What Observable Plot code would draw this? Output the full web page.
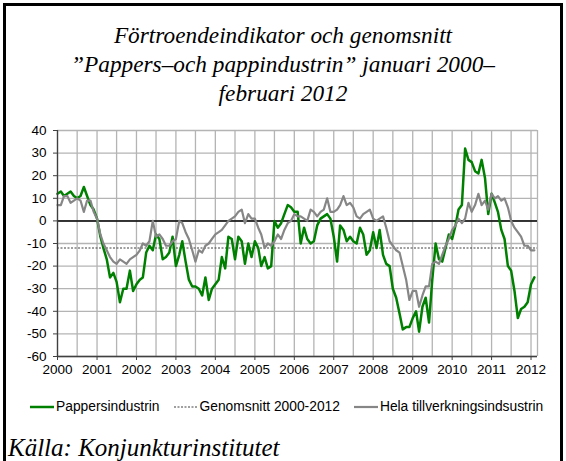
<!DOCTYPE html>
<html><head><meta charset="utf-8">
<script src="https://cdn.jsdelivr.net/npm/d3@7"></script>
<script src="https://cdn.jsdelivr.net/npm/@observablehq/plot@0.6"></script>
<style>
html,body{margin:0;padding:0;background:#fff;width:566px;height:461px;overflow:hidden;}
#frame{position:absolute;left:3px;top:3px;width:560px;height:470px;border:3px solid #000;border-bottom:none;box-sizing:border-box;z-index:10;pointer-events:none;}
#title{position:absolute;left:0;top:21px;width:566px;text-align:center;font-family:"Liberation Serif","Times New Roman",serif;font-style:italic;font-size:23.3px;line-height:29px;color:#000;}
#chart{position:absolute;left:0;top:120px;}
#legend{position:absolute;left:30px;top:399px;font-family:"Liberation Sans",Arial,sans-serif;font-size:13.8px;color:#000;white-space:nowrap;}
#legend span{display:inline-flex;align-items:center;margin-right:14px;}
#legend svg{margin-right:2px;}
#caption{position:absolute;left:8px;top:434px;font-family:"Liberation Serif","Times New Roman",serif;font-style:italic;font-size:25px;color:#000;}
</style>
</head><body>
<div id="frame"></div>
<div id="title">Förtroendeindikator och genomsnitt<br>”Pappers–och pappindustrin” januari 2000–<br>februari 2012</div>
<div id="chart"></div>
<div id="legend"></div>
<div id="caption">Källa: Konjunkturinstitutet</div>
<script>
// Monthly values, January 2000 – February 2012
const pappersindustrin = [
  12, 13, 11, 12, 13, 11, 10, 11, 15, 11, 7, 5,          // 2000
  1, -7, -12, -17, -25, -23, -27, -36, -30, -30, -22, -31, // 2001
  -28, -26, -25, -14, -11, -13, -6, -8, -17, -16, -14, -7, // 2002
  -20, -15, -9, -18, -26, -29, -29, -30, -33, -25, -35, -30, // 2003
  -28, -26, -16, -21, -7, -8, -17, -7, -9, -19, -10, -16, // 2004
  -9, -12, -20, -16, -21, -20, 0, -3, -1, 3, 7, 6,        // 2005
  4, 4, -10, -3, -8, -10, -9, -2, 1, 2, 3, 1,             // 2006
  -7, -18, -2, -4, -9, -7, -9, -10, -3, -6, -15, -13,     // 2007
  -5, -12, -4, -15, -19, -20, -30, -34, -41, -48, -47, -47, // 2008
  -43, -40, -49, -38, -34, -45, -26, -10, -17, -18, -12, -6, // 2009
  -8, -2, 5, 7, 32, 27, 26, 22, 21, 27, 19, 3,            // 2010
  12, 8, 4, -4, -8, -20, -22, -31, -43, -39, -38, -36,    // 2011
  -28, -25                                               // 2012
];
const helaTillverkningsindustrin = [
  7, 7, 11, 11, 8, 9, 10, 9, 4, 9, 9, 4,                  // 2000
  1, -6, -10, -13, -16, -18, -19, -17, -18, -19, -17, -16, // 2001
  -15, -13, -10, -11, -9, 0, -7, -6, -8, -11, -11, -9,    // 2002
  -8, 0, -1, -5, -8, -13, -18, -13, -14, -11, -10, -8,    // 2003
  -6, -5, -4, -2, 0, 1, 2, 4, 5, -1, 3, 1,                // 2004
  1, -3, -6, -12, -10, -11, -9, -6, -8, -4, -1, 0,        // 2005
  3, 2, 2, 1, 0, 5, 4, 2, 4, 5, 10, 4,                    // 2006
  4, 5, 7, 11, 7, 8, 6, 2, 1, 3, 4, 5,                    // 2007
  1, 0, 1, 2, -3, -9, -11, -13, -14, -20, -26, -35,       // 2008
  -31, -31, -38, -33, -29, -29, -19, -18, -19, -15, -11, -8, // 2009
  -4, -2, 1, -1, 1, 8, 4, 7, 12, 7, 9, 5,                 // 2010
  12, 10, 11, 9, 10, 6, 0, -3, -5, -7, -11, -11,          // 2011
  -13, -13                                               // 2012
];
const genomsnitt = [-12];
const yTicks = [40, 30, 20, 10, 0, -10, -20, -30, -40, -50, -60];
const yearLabels = ["2000","2001","2002","2003","2004","2005","2006","2007","2008","2009","2010","2011","2012"];
const seriesNames = ["Pappersindustrin", "Genomsnitt 2000-2012", "Hela tillverkningsindsustrin"];
const colors = ["#008000", "#404040", "#868686"];

const monthDate = i => new Date(Date.UTC(2000, i, 1));
const paper = pappersindustrin.map((v, i) => ({date: monthDate(i), value: v}));
const whole = helaTillverkningsindustrin.map((v, i) => ({date: monthDate(i), value: v}));
const yearDates = yearLabels.map(y => new Date(Date.UTC(+y, 0, 1)));
const xStart = new Date(Date.UTC(2000, 0, 1));
const xEnd = new Date(Date.UTC(2012, 2, 1));
const halfYears = d3.utcMonth.every(6).range(xStart, xEnd);

const gridColor = "#b4b4b4";
const axisColor = "#404040";

const chart = Plot.plot({
  width: 566,
  height: 266,
  marginLeft: 57,
  marginRight: 29,
  marginTop: 10,
  marginBottom: 30,
  style: {fontFamily: "'Liberation Sans', Arial, sans-serif", fontSize: "13.5px", color: "#000", background: "transparent"},
  x: {type: "utc", domain: [xStart, xEnd], axis: null, label: null},
  y: {domain: [-60, 40], axis: null, label: null},
  marks: [
    Plot.ruleY(yTicks, {stroke: gridColor, strokeWidth: 1.3}),
    Plot.ruleX(halfYears, {stroke: gridColor, strokeWidth: 1.3}),
    Plot.ruleX([xEnd], {stroke: gridColor, strokeWidth: 1.3}),
    Plot.ruleY([0], {stroke: "#000", strokeWidth: 1.5}),
    Plot.ruleY(genomsnitt, {stroke: colors[1], strokeWidth: 1.2, strokeDasharray: "2,1.5"}),
    Plot.line(paper, {x: "date", y: "value", stroke: colors[0], strokeWidth: 2.5, strokeLinejoin: "round"}),
    Plot.line(whole, {x: "date", y: "value", stroke: colors[2], strokeWidth: 2.2, strokeLinejoin: "round"}),
    Plot.ruleX([xStart], {stroke: axisColor, strokeWidth: 1.3}),
    Plot.ruleY([-60], {stroke: axisColor, strokeWidth: 1.3}),
    Plot.axisY({ticks: yTicks, tickSize: 4, tickPadding: 7, stroke: axisColor, label: null, tickFormat: d => String(d).replace("−", "-")}),
    Plot.axisX({ticks: yearDates, tickSize: 4, tickPadding: 4, stroke: axisColor, label: null, tickFormat: d => String(d.getUTCFullYear())})
  ]
});
document.getElementById("chart").appendChild(chart);

// Legend
const legend = document.getElementById("legend");
const samples = [
  {stroke: colors[0], width: 2.5, dash: null},
  {stroke: colors[1], width: 1.2, dash: "2,1.5"},
  {stroke: colors[2], width: 2.2, dash: null}
];
seriesNames.forEach((name, k) => {
  const s = samples[k];
  const span = document.createElement("span");
  span.innerHTML = `<svg width="24" height="10"><line x1="0" x2="24" y1="5" y2="5" stroke="${s.stroke}" stroke-width="${s.width}" ${s.dash ? `stroke-dasharray="${s.dash}"` : ""}/></svg>${name}`;
  legend.appendChild(span);
});
</script>
</body></html>
